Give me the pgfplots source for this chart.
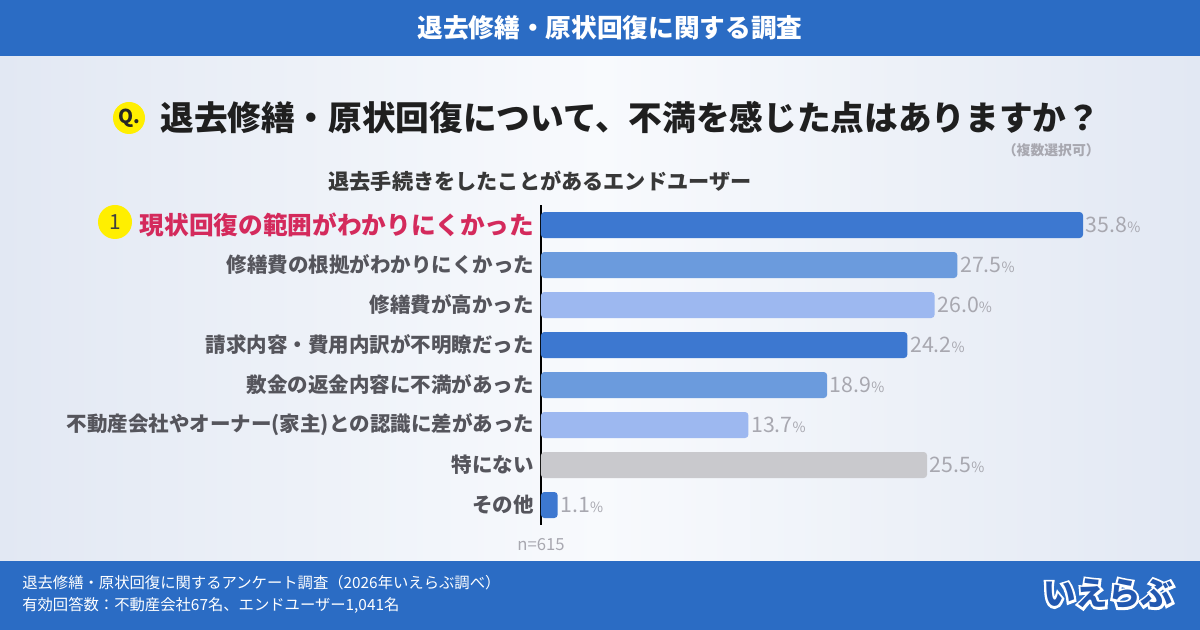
\documentclass[border=0pt]{standalone}
\usepackage{pgfplots}
\pgfplotsset{compat=1.18}
\usepackage{fontspec}
\setmainfont{Noto Sans CJK JP}
\newfontfamily\logofat[BoldFeatures={FakeBold=14}]{Noto Sans CJK JP}
\definecolor{hdr}{HTML}{2B6CC4}
\definecolor{cA}{HTML}{3D78D0}
\definecolor{cB}{HTML}{6B9BDD}
\definecolor{cC}{HTML}{9DB8F0}
\definecolor{cG}{HTML}{C9C9CD}
\definecolor{lbl}{HTML}{55555C}
\definecolor{red1}{HTML}{D42A5C}
\definecolor{valg}{HTML}{A8A8B0}
\definecolor{yel}{HTML}{FFEF00}
\definecolor{bgA}{HTML}{E2E8F3}
\definecolor{bgB}{HTML}{F8FAFD}
\definecolor{logo}{HTML}{2258B0}
\begin{document}
\begin{tikzpicture}[x=0.6pt,y=0.6pt]
\useasboundingbox (0,0) rectangle (1200,630);
\shade[left color=bgA, right color=bgA, middle color=bgB] (0,0) rectangle (1200,630);
% header
\fill[hdr] (0,574) rectangle (1200,630);
\node[text=white, font=\fontsize{15.4}{17}\selectfont\bfseries] at (610,602) {退去修繕・原状回復に関する調査};
% question
\fill[yel] (129,512) circle (16);
\node[font=\fontsize{11.5}{12}\selectfont\bfseries, text=black!85] at (129,512) {Q.};
\node[anchor=west, inner sep=0, text=black!88, font=\fontsize{20.2}{23}\selectfont\bfseries] at (160,512) {退去修繕・原状回復について、不満を感じた点はありますか？};
\node[anchor=east, inner sep=0, text=valg, font=\fontsize{8.3}{10}\selectfont\bfseries] at (1100,480) {（複数選択可）};
\node[text=black!78, font=\fontsize{12.7}{14}\selectfont\bfseries] at (540,449) {退去手続きをしたことがあるエンドユーザー};
% chart
\begin{axis}[
  at={(324.6pt,63pt)}, anchor=south west,
  scale only axis, width=360pt, height=192pt,
  xmin=0, xmax=39.63, ymin=-0.5, ymax=7.5, y dir=reverse,
  xbar, bar width=15.6pt, bar shift=0pt,
  axis x line=none, axis y line*=left,
  y axis line style={black, line width=1.6pt, -},
  ytick={0,...,7},
  yticklabels={{\textcolor{red1}{\fontsize{14.8}{16}\selectfont\bfseries 現状回復の範囲がわかりにくかった}},
    修繕費の根拠がわかりにくかった, 修繕費が高かった, 請求内容・費用内訳が不明瞭だった,
    敷金の返金内容に不満があった, 不動産会社やオーナー(家主)との認識に差があった, 特にない, その他},
  major tick length=0, ytick style={draw=none},
  yticklabel style={font=\fontsize{12.3}{14}\selectfont\bfseries, text=lbl, anchor=east, inner sep=1pt, xshift=-3pt},
  nodes near coords={\pgfmathprintnumber[fixed,fixed zerofill,precision=1]{\pgfplotspointmeta}{\fontsize{8.5}{9}\selectfont\%}},
  /pgf/number format/assume math mode=true,
  every node near coord/.append style={font=\fontsize{12.8}{14}\selectfont, text=valg, anchor=west, inner sep=1.5pt},
  clip=false,
]
\addplot[fill=cA, draw=none, rounded corners=2pt] coordinates {(35.8,0)};
\addplot[fill=cB, draw=none, rounded corners=2pt] coordinates {(27.5,1)};
\addplot[fill=cC, draw=none, rounded corners=2pt] coordinates {(26.0,2)};
\addplot[fill=cA, draw=none, rounded corners=2pt] coordinates {(24.2,3)};
\addplot[fill=cB, draw=none, rounded corners=2pt] coordinates {(18.9,4)};
\addplot[fill=cC, draw=none, rounded corners=2pt] coordinates {(13.7,5)};
\addplot[fill=cG, draw=none, rounded corners=2pt] coordinates {(25.5,6)};
\addplot[fill=cA, draw=none, rounded corners=2pt] coordinates {(1.1,7)};
\end{axis}
\fill[yel] (115,408) circle (17);
\node[font=\fontsize{12.5}{13}\selectfont, text=black!75] at (115,408) {1};
\node[text=valg, font=\fontsize{10}{11}\selectfont] at (541,85) {n=615};
% footer
\fill[hdr] (0,0) rectangle (1200,69);
\node[anchor=west, inner sep=0, text=white, font=\fontsize{9.2}{10}\selectfont] at (22,47) {退去修繕・原状回復に関するアンケート調査（2026年いえらぶ調べ）};
\node[anchor=west, inner sep=0, text=white, font=\fontsize{9.2}{10}\selectfont] at (22,25) {有効回答数：不動産会社67名、エンドユーザー1,041名};
\node[text=logo, font=\fontsize{19.5}{20}\selectfont\bfseries] at (1108,36) {\rlap{\color{white}\logofat\bfseries いえらぶ}いえらぶ};
\end{tikzpicture}
\end{document}
